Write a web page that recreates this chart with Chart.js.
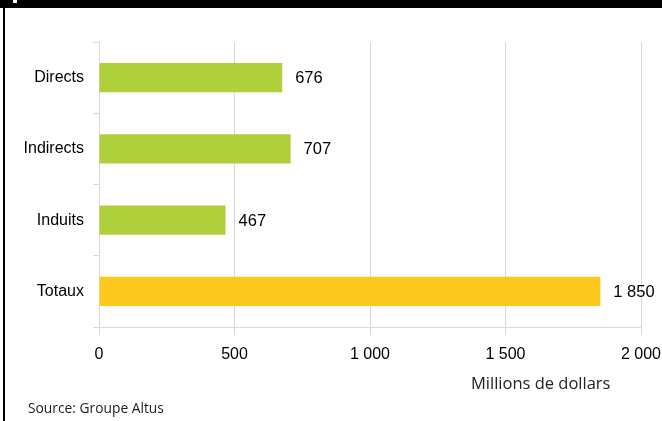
<!DOCTYPE html>
<html lang="fr">
<head>
  <meta charset="UTF-8">
  <title>Impacts économiques</title>
  <script src="https://cdn.jsdelivr.net/npm/chart.js"></script>
  <style>
    html, body { margin: 0; padding: 0; background: #fff; }
    .frame { position: relative; width: 662px; height: 421px; overflow: hidden; }
    .topbar { position: absolute; left: 0; top: 0; width: 662px; height: 8px; background: #000; }
    .notch { position: absolute; left: 13px; top: 0; width: 4px; height: 3px; background: #fff; }
    .leftbar { position: absolute; left: 3px; top: 0; width: 2px; height: 421px; background: #000; }
    canvas { position: absolute; left: 0; top: 0; }
    .unit { position: absolute; left: 471px; top: 371px; font: 16.5px "Open Sans", sans-serif; color: #222; }
    .source { position: absolute; left: 28px; top: 398px; font: 13.8px "Open Sans", sans-serif; color: #222; }
  </style>
</head>
<body>
  <div class="frame">
    <canvas id="chart" width="662" height="421"></canvas>
    <div class="topbar"></div>
    <div class="notch"></div>
    <div class="leftbar"></div>
    <div class="unit">Millions de dollars</div>
    <div class="source">Source: Groupe Altus</div>
  </div>
  <script>
    const categories = ['Directs', 'Indirects', 'Induits', 'Totaux'];
    const values = [676, 707, 467, 1850];
    const barColors = ['#afcf3b', '#afcf3b', '#afcf3b', '#fcc81e'];
    const xTicks = [0, 500, 1000, 1500, 2000];

    function fmt(n) {
      return String(n).replace(/\B(?=(\d{3})+(?!\d))/g, ' ');
    }

    const valueLabels = {
      id: 'valueLabels',
      afterDatasetsDraw(chart) {
        const ctx = chart.ctx;
        const meta = chart.getDatasetMeta(0);
        ctx.save();
        ctx.font = '16.5px "Liberation Sans", Arial, sans-serif';
        ctx.fillStyle = '#000';
        ctx.textBaseline = 'middle';
        ctx.textAlign = 'left';
        meta.data.forEach((bar, i) => {
          ctx.fillText(fmt(values[i]), bar.x + 13, bar.y + 1);
        });
        ctx.restore();
      }
    };

    new Chart(document.getElementById('chart'), {
      type: 'bar',
      data: {
        labels: categories,
        datasets: [{
          data: values,
          backgroundColor: barColors,
          categoryPercentage: 1,
          barPercentage: 0.41
        }]
      },
      options: {
        indexAxis: 'y',
        responsive: false,
        animation: false,
        layout: { padding: { top: 42, right: 21, left: 0, bottom: 0 } },
        plugins: { legend: { display: false }, tooltip: { enabled: false } },
        scales: {
          x: {
            min: 0,
            max: 2000,
            afterBuildTicks(scale) { scale.ticks = xTicks.map(v => ({ value: v })); },
            afterFit(scale) {
              scale.height = 94;
              scale.paddingRight = 0;
            },
            grid: { color: '#d9d9d9', lineWidth: 1, tickLength: 8, drawTicks: true },
            border: { color: '#d9d9d9' },
            ticks: {
              color: '#000',
              padding: 10,
              font: { family: '"Liberation Sans", Arial, sans-serif', size: 16 },
              callback: v => fmt(v)
            }
          },
          y: {
            afterFit(scale) { scale.width = 99; },
            grid: { offset: true, drawOnChartArea: false, color: '#d9d9d9', tickLength: 6 },
            border: { color: '#d9d9d9' },
            ticks: {
              color: '#000',
              padding: 9,
              font: { family: '"Liberation Sans", Arial, sans-serif', size: 16 }
            }
          }
        }
      },
      plugins: [valueLabels]
    });
  </script>
</body>
</html>
